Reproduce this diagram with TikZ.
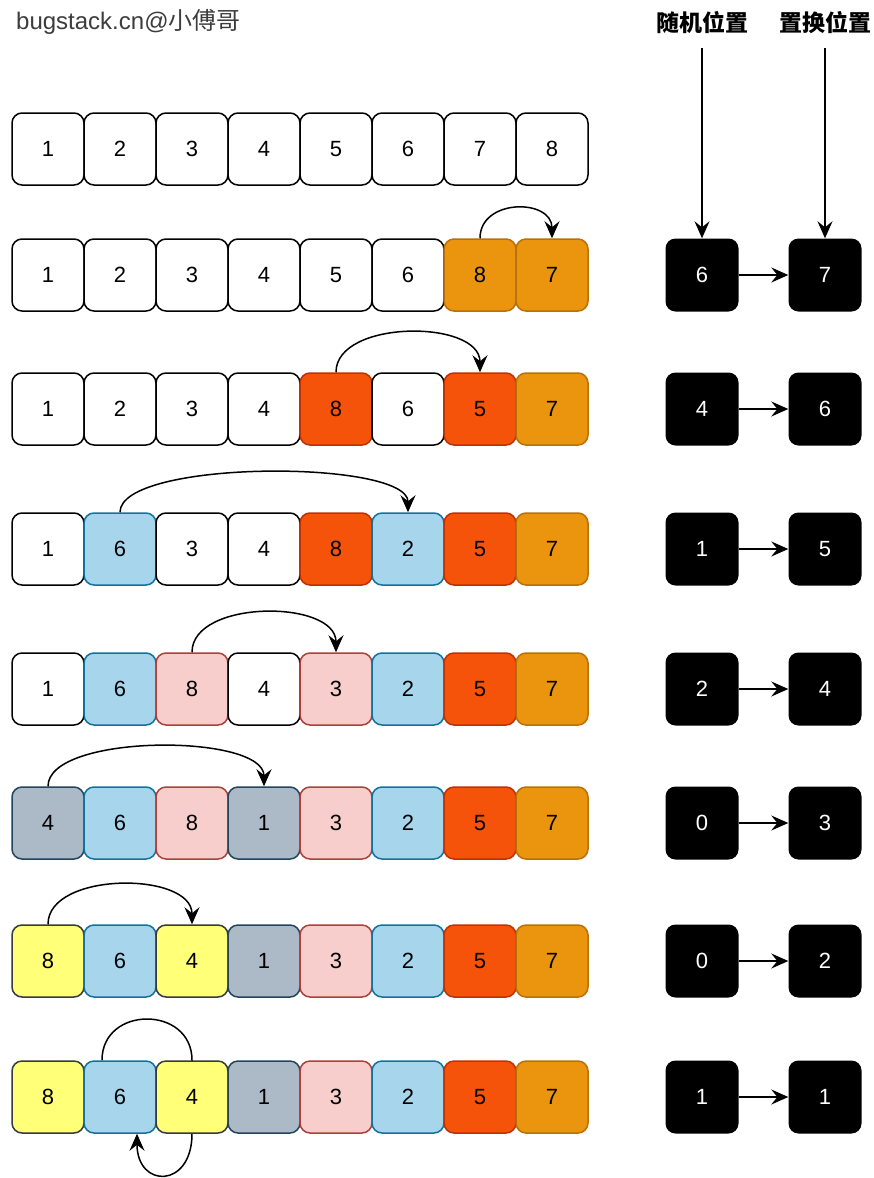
\documentclass[tikz,border=0pt]{standalone}
\usepackage{fontspec}
\setmainfont{Liberation Sans}
\newfontfamily\cjk{Noto Sans CJK SC}
\usetikzlibrary{arrows.meta,backgrounds}

\definecolor{orangefill}{HTML}{EB940E}
\definecolor{orangeline}{HTML}{B8700A}
\definecolor{redfill}{HTML}{F5530A}
\definecolor{redline}{HTML}{C03000}
\definecolor{bluefill}{HTML}{A6D5EC}
\definecolor{blueline}{HTML}{10739E}
\definecolor{pinkfill}{HTML}{F7CECC}
\definecolor{pinkline}{HTML}{AE3F3A}
\definecolor{grayfill}{HTML}{ACBAC7}
\definecolor{grayline}{HTML}{23445D}
\definecolor{yellowfill}{HTML}{FFFF78}
\definecolor{yellowline}{HTML}{36393D}
\definecolor{marktext}{HTML}{3C3C3C}

\tikzset{
	cell/.style={draw=black, fill=white, line width=1.5pt, rounded corners=10pt, minimum size=72pt, inner sep=0pt, font=\fontsize{22}{25}\selectfont},
	ocell/.style={cell, fill=orangefill, draw=orangeline},
	rcell/.style={cell, fill=redfill, draw=redline},
	bcell/.style={cell, fill=bluefill, draw=blueline},
	pcell/.style={cell, fill=pinkfill, draw=pinkline},
	gcell/.style={cell, fill=grayfill, draw=grayline},
	ycell/.style={cell, fill=yellowfill, draw=yellowline},
	slot/.style={fill=black, rounded corners=10pt, minimum size=73pt, inner sep=0pt, text=white, font=\fontsize{22}{25}\selectfont},
	swaparrow/.style={-{Stealth[length=17pt, width=15pt, inset=6pt]}, line width=1.5pt},
	header/.style={font=\cjk\bfseries\fontsize{23}{26}\selectfont}
}

\begin{document}
\begin{tikzpicture}[x=1pt, y=-1pt]
	\useasboundingbox(0, 0) rectangle (874, 1178);

	\node[anchor=west, text=marktext, inner sep=0pt, font=\fontsize{24}{27}\selectfont] (mark) at(16, 22){bugstack.cn@{\cjk 小傅哥}};

	\node[header] (hrand) at(702, 23){随机位置};
	\node[header] (hswap) at(825, 23){置换位置};
	\coordinate (randtop) at(702, 48);
	\coordinate (swaptop) at(825, 48);

	\node[cell] (r1c1) at(48, 149){1};
	\node[cell] (r1c2) at(120, 149){2};
	\node[cell] (r1c3) at(192, 149){3};
	\node[cell] (r1c4) at(264, 149){4};
	\node[cell] (r1c5) at(336, 149){5};
	\node[cell] (r1c6) at(408, 149){6};
	\node[cell] (r1c7) at(480, 149){7};
	\node[cell] (r1c8) at(552, 149){8};

	\node[cell] (r2c1) at(48, 275){1};
	\node[cell] (r2c2) at(120, 275){2};
	\node[cell] (r2c3) at(192, 275){3};
	\node[cell] (r2c4) at(264, 275){4};
	\node[cell] (r2c5) at(336, 275){5};
	\node[cell] (r2c6) at(408, 275){6};
	\node[ocell] (r2c7) at(480, 275){8};
	\node[ocell] (r2c8) at(552, 275){7};

	\node[cell] (r3c1) at(48, 409){1};
	\node[cell] (r3c2) at(120, 409){2};
	\node[cell] (r3c3) at(192, 409){3};
	\node[cell] (r3c4) at(264, 409){4};
	\node[rcell] (r3c5) at(336, 409){8};
	\node[cell] (r3c6) at(408, 409){6};
	\node[rcell] (r3c7) at(480, 409){5};
	\node[ocell] (r3c8) at(552, 409){7};

	\node[cell] (r4c1) at(48, 549){1};
	\node[bcell] (r4c2) at(120, 549){6};
	\node[cell] (r4c3) at(192, 549){3};
	\node[cell] (r4c4) at(264, 549){4};
	\node[rcell] (r4c5) at(336, 549){8};
	\node[bcell] (r4c6) at(408, 549){2};
	\node[rcell] (r4c7) at(480, 549){5};
	\node[ocell] (r4c8) at(552, 549){7};

	\node[cell] (r5c1) at(48, 689){1};
	\node[bcell] (r5c2) at(120, 689){6};
	\node[pcell] (r5c3) at(192, 689){8};
	\node[cell] (r5c4) at(264, 689){4};
	\node[pcell] (r5c5) at(336, 689){3};
	\node[bcell] (r5c6) at(408, 689){2};
	\node[rcell] (r5c7) at(480, 689){5};
	\node[ocell] (r5c8) at(552, 689){7};

	\node[gcell] (r6c1) at(48, 823){4};
	\node[bcell] (r6c2) at(120, 823){6};
	\node[pcell] (r6c3) at(192, 823){8};
	\node[gcell] (r6c4) at(264, 823){1};
	\node[pcell] (r6c5) at(336, 823){3};
	\node[bcell] (r6c6) at(408, 823){2};
	\node[rcell] (r6c7) at(480, 823){5};
	\node[ocell] (r6c8) at(552, 823){7};

	\node[ycell] (r7c1) at(48, 961){8};
	\node[bcell] (r7c2) at(120, 961){6};
	\node[ycell] (r7c3) at(192, 961){4};
	\node[gcell] (r7c4) at(264, 961){1};
	\node[pcell] (r7c5) at(336, 961){3};
	\node[bcell] (r7c6) at(408, 961){2};
	\node[rcell] (r7c7) at(480, 961){5};
	\node[ocell] (r7c8) at(552, 961){7};

	\node[ycell] (r8c1) at(48, 1097){8};
	\node[bcell] (r8c2) at(120, 1097){6};
	\node[ycell] (r8c3) at(192, 1097){4};
	\node[gcell] (r8c4) at(264, 1097){1};
	\node[pcell] (r8c5) at(336, 1097){3};
	\node[bcell] (r8c6) at(408, 1097){2};
	\node[rcell] (r8c7) at(480, 1097){5};
	\node[ocell] (r8c8) at(552, 1097){7};

	\draw[swaparrow](r2c7.north) .. controls +(0, -40) and +(0, -40) .. (r2c8.north);
	\draw[swaparrow](r3c5.north) .. controls +(0, -53) and +(0, -53) .. (r3c7.north);
	\draw[swaparrow](r4c2.north) .. controls +(0, -53) and +(0, -53) .. (r4c6.north);
	\draw[swaparrow](r5c3.north) .. controls +(0, -53) and +(0, -53) .. (r5c5.north);
	\draw[swaparrow](r6c1.north) .. controls +(0, -53) and +(0, -53) .. (r6c4.north);
	\draw[swaparrow](r7c1.north) .. controls +(0, -53) and +(0, -53) .. (r7c3.north);
	\begin{scope}[on background layer]
		\draw[swaparrow]([xshift=-18pt]r8c2.north) .. controls +(0, -55) and +(0, -55) .. (r8c3.north) -- (r8c3.south) .. controls +(0, 55) and +(0, 55) .. ([xshift=17pt]r8c2.south);
	\end{scope}

	\node[slot] (rand2) at(702, 275){6};
	\node[slot] (swap2) at(825, 275){7};
	\node[slot] (rand3) at(702, 409){4};
	\node[slot] (swap3) at(825, 409){6};
	\node[slot] (rand4) at(702, 549){1};
	\node[slot] (swap4) at(825, 549){5};
	\node[slot] (rand5) at(702, 689){2};
	\node[slot] (swap5) at(825, 689){4};
	\node[slot] (rand6) at(702, 823){0};
	\node[slot] (swap6) at(825, 823){3};
	\node[slot] (rand7) at(702, 961){0};
	\node[slot] (swap7) at(825, 961){2};
	\node[slot] (rand8) at(702, 1097){1};
	\node[slot] (swap8) at(825, 1097){1};

	\draw[swaparrow](randtop) -- (rand2.north);
	\draw[swaparrow](swaptop) -- (swap2.north);

	\draw[swaparrow](rand2) -- (swap2);
	\draw[swaparrow](rand3) -- (swap3);
	\draw[swaparrow](rand4) -- (swap4);
	\draw[swaparrow](rand5) -- (swap5);
	\draw[swaparrow](rand6) -- (swap6);
	\draw[swaparrow](rand7) -- (swap7);
	\draw[swaparrow](rand8) -- (swap8);
\end{tikzpicture}
\end{document}
